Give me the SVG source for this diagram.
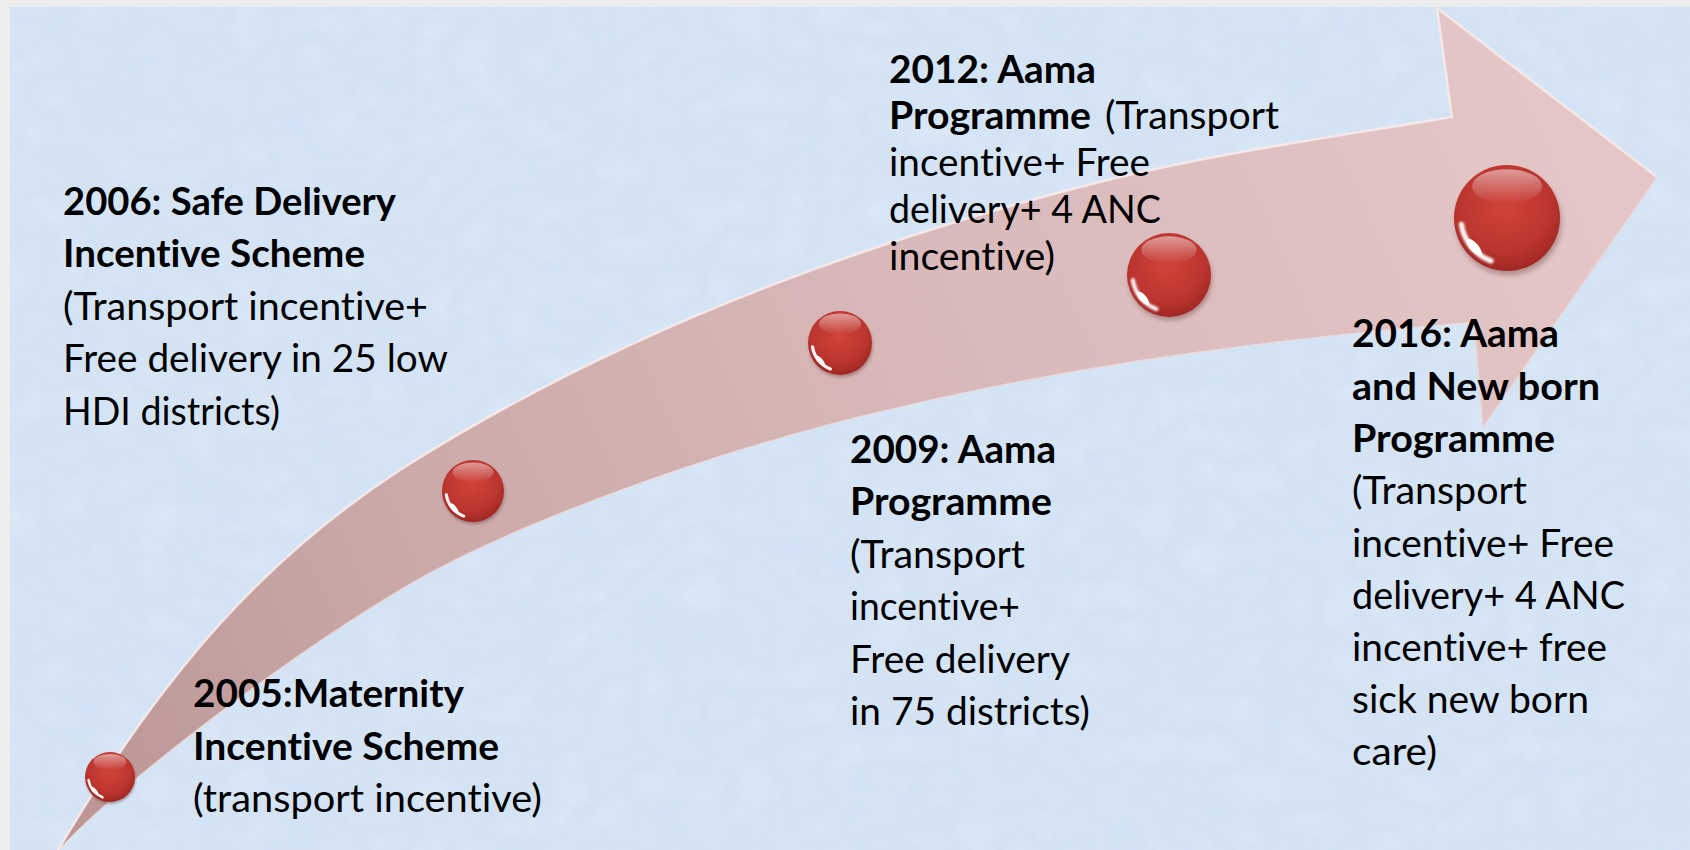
<svg xmlns="http://www.w3.org/2000/svg" xmlns:xlink="http://www.w3.org/1999/xlink" width="1690" height="850" viewBox="0 0 1690 850">
  <defs>
    <style>
      .lbl { font-family: Lato, "Open Sans", "Liberation Sans", sans-serif; font-size: 38px; fill: #000; font-variant-ligatures: none; font-feature-settings: "liga" 0, "clig" 0; }
      .b { font-weight: 700; }
    </style>

    <!-- tissue-paper texture for the slide background -->
    <filter id="paper" x="0" y="0" width="100%" height="100%">
      <feTurbulence type="turbulence" baseFrequency="0.022 0.026" numOctaves="4" seed="7" result="t"/>
      <feColorMatrix in="t" type="matrix" values="0 0 0 0 1  0 0 0 0 1  0 0 0 0 1  1.1 0 0 0 -0.1"/>
    </filter>
    <filter id="mottle" x="0" y="0" width="100%" height="100%">
      <feTurbulence type="fractalNoise" baseFrequency="0.008" numOctaves="2" seed="2" result="n"/>
      <feColorMatrix in="n" type="matrix" values="0 0 0 0 0.62  0 0 0 0 0.76  0 0 0 0 0.93  0 0 0 0.9 -0.35"/>
    </filter>

    <!-- shaft shading: darker at the tail, lighter at the head -->
    <linearGradient id="shaft" gradientUnits="userSpaceOnUse" x1="57" y1="852" x2="1560" y2="180">
      <stop offset="0" stop-color="#bb9494"/>
      <stop offset="0.25" stop-color="#caa8a8"/>
      <stop offset="0.6" stop-color="#d8b8b8"/>
      <stop offset="1" stop-color="#e4c6c6"/>
    </linearGradient>

    <!-- red bead -->
    <radialGradient id="beadFill" cx="0.48" cy="0.38" r="0.62">
      <stop offset="0" stop-color="#d0433b"/>
      <stop offset="0.7" stop-color="#bb352e"/>
      <stop offset="1" stop-color="#a02723"/>
    </radialGradient>
    <linearGradient id="beadTop" x1="0" y1="0" x2="0" y2="1">
      <stop offset="0" stop-color="#ffffff" stop-opacity="0.5"/>
      <stop offset="1" stop-color="#ffffff" stop-opacity="0"/>
    </linearGradient>
    <filter id="beadShadow" x="-30%" y="-30%" width="160%" height="170%">
      <feGaussianBlur stdDeviation="0.05"/>
    </filter>
    <filter id="glintBlur" x="-40%" y="-40%" width="180%" height="180%">
      <feGaussianBlur stdDeviation="0.02"/>
    </filter>
    <g id="bead">
      <circle cx="0.03" cy="0.08" r="1" fill="#5a2a2a" opacity="0.35" filter="url(#beadShadow)"/>
      <circle r="1" fill="url(#beadFill)"/>
      <ellipse cx="0" cy="-0.6" rx="0.66" ry="0.32" fill="url(#beadTop)"/>
      <path d="M -0.86,0.12 A 0.87 0.87 0 0 0 -0.3,0.81" fill="none" stroke="#ffffff" stroke-width="0.1" stroke-linecap="round" opacity="0.95" filter="url(#glintBlur)"/>
      <ellipse cx="-0.62" cy="0.55" rx="0.2" ry="0.08" transform="rotate(48 -0.62 0.55)" fill="#ffffff"/>
    </g>
  </defs>

  <!-- slide frame and background -->
  <rect width="1690" height="850" fill="#eeeeee"/>
  <rect x="10" y="7" width="1680" height="843" fill="#d3e3f4"/>
  <rect x="10" y="7" width="1680" height="843" filter="url(#mottle)" opacity="0.6"/>
  <rect x="10" y="7" width="1680" height="843" filter="url(#paper)" opacity="0.2"/>

  <!-- curved timeline arrow -->
  <g id="connectors">
    <path id="timeline-arrow" d="M 57,852 C 167,665 270,555 400,470 C 620,330 870,240 1100,182 C 1220,152 1352,134 1452,117 L 1437,8 L 1657,177 L 1483,427 L 1474,322 C 1284,338 1090,362 900,407 C 720,448 510,524 400,590 C 280,662 117,786 57,852 Z" fill="url(#shaft)" stroke="#edd6d6" stroke-width="1.2" stroke-linejoin="miter"/>
    <!-- bevel highlight along the top edge -->
    <path d="M 57,852 C 167,665 270,555 400,470 C 620,330 870,240 1100,182 C 1220,152 1352,134 1452,117 L 1437,8 L 1657,177" fill="none" stroke="#fbeeee" stroke-width="2.5" stroke-opacity="0.75"/>
  </g>

  <!-- milestone beads -->
  <g id="milestones">
    <g id="bead-2005"><use xlink:href="#bead" transform="translate(110,777) scale(25)"/></g>
    <g id="bead-2006"><use xlink:href="#bead" transform="translate(473,491) scale(31)"/></g>
    <g id="bead-2009"><use xlink:href="#bead" transform="translate(840,343) scale(32)"/></g>
    <g id="bead-2012"><use xlink:href="#bead" transform="translate(1169,275) scale(42)"/></g>
    <g id="bead-2016"><use xlink:href="#bead" transform="translate(1507,218) scale(53)"/></g>
  </g>

  <!-- milestone labels -->
  <g id="label-2005">
    <text class="lbl b" x="193" y="707" textLength="271" lengthAdjust="spacingAndGlyphs">2005:Maternity</text>
    <text class="lbl b" x="193" y="760" textLength="306" lengthAdjust="spacingAndGlyphs">Incentive Scheme</text>
    <text class="lbl" x="193" y="812" textLength="349" lengthAdjust="spacingAndGlyphs">(transport incentive)</text>
  </g>

  <g id="label-2006">
    <text class="lbl b" x="63" y="215" textLength="333" lengthAdjust="spacingAndGlyphs">2006: Safe Delivery</text>
    <text class="lbl b" x="63" y="267" textLength="302" lengthAdjust="spacingAndGlyphs">Incentive Scheme</text>
    <text class="lbl" x="63" y="320" textLength="365" lengthAdjust="spacingAndGlyphs">(Transport incentive+</text>
    <text class="lbl" x="63" y="372" textLength="385" lengthAdjust="spacingAndGlyphs">Free delivery in 25 low</text>
    <text class="lbl" x="63" y="425" textLength="217" lengthAdjust="spacingAndGlyphs">HDI districts)</text>
  </g>

  <g id="label-2009">
    <text class="lbl b" x="850" y="463" textLength="206" lengthAdjust="spacingAndGlyphs">2009: Aama</text>
    <text class="lbl b" x="850" y="515" textLength="202" lengthAdjust="spacingAndGlyphs">Programme</text>
    <text class="lbl" x="850" y="568" textLength="175" lengthAdjust="spacingAndGlyphs">(Transport</text>
    <text class="lbl" x="850" y="620" textLength="170" lengthAdjust="spacingAndGlyphs">incentive+</text>
    <text class="lbl" x="850" y="673" textLength="220" lengthAdjust="spacingAndGlyphs">Free delivery</text>
    <text class="lbl" x="850" y="725" textLength="240" lengthAdjust="spacingAndGlyphs">in 75 districts)</text>
  </g>

  <g id="label-2012">
    <text class="lbl b" x="889" y="83" textLength="207" lengthAdjust="spacingAndGlyphs">2012: Aama</text>
    <text class="lbl b" x="889" y="129" textLength="202" lengthAdjust="spacingAndGlyphs">Programme</text>
    <text class="lbl" x="1105" y="129" textLength="174" lengthAdjust="spacingAndGlyphs">(Transport</text>
    <text class="lbl" x="889" y="176" textLength="261" lengthAdjust="spacingAndGlyphs">incentive+ Free</text>
    <text class="lbl" x="889" y="223" textLength="272" lengthAdjust="spacingAndGlyphs">delivery+ 4 ANC</text>
    <text class="lbl" x="889" y="270" textLength="166" lengthAdjust="spacingAndGlyphs">incentive)</text>
  </g>

  <g id="label-2016">
    <text class="lbl b" x="1352" y="347" textLength="207" lengthAdjust="spacingAndGlyphs">2016: Aama</text>
    <text class="lbl b" x="1352" y="400" textLength="248" lengthAdjust="spacingAndGlyphs">and New born</text>
    <text class="lbl b" x="1352" y="452" textLength="203" lengthAdjust="spacingAndGlyphs">Programme</text>
    <text class="lbl" x="1352" y="504" textLength="175" lengthAdjust="spacingAndGlyphs">(Transport</text>
    <text class="lbl" x="1352" y="557" textLength="262" lengthAdjust="spacingAndGlyphs">incentive+ Free</text>
    <text class="lbl" x="1352" y="609" textLength="273" lengthAdjust="spacingAndGlyphs">delivery+ 4 ANC</text>
    <text class="lbl" x="1352" y="661" textLength="255" lengthAdjust="spacingAndGlyphs">incentive+ free</text>
    <text class="lbl" x="1352" y="713" textLength="237" lengthAdjust="spacingAndGlyphs">sick new born</text>
    <text class="lbl" x="1352" y="765" textLength="85" lengthAdjust="spacingAndGlyphs">care)</text>
  </g>
</svg>
